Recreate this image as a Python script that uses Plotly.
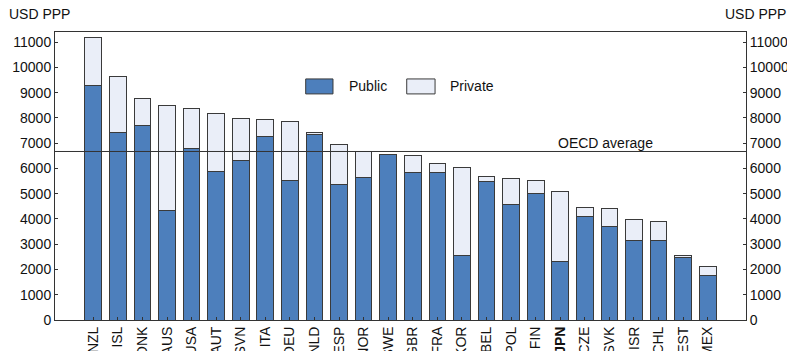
import plotly.graph_objects as go

countries = ["NZL", "ISL", "DNK", "AUS", "USA", "AUT", "SVN", "ITA", "DEU", "NLD", "ESP", "NOR", "SWE",
             "GBR", "FRA", "KOR", "BEL", "POL", "FIN", "JPN", "CZE", "SVK", "ISR", "CHL", "EST", "MEX"]
public = [9270, 7420, 7700, 4350, 6780, 5880, 6300, 7250, 5510, 7330, 5350, 5640, 6540,
          5840, 5820, 2560, 5490, 4560, 5010, 2300, 4080, 3690, 3140, 3140, 2490, 1750]
total = [11200, 9620, 8770, 8480, 8390, 8190, 7980, 7940, 7860, 7420, 6940, 6670, 6540,
         6500, 6190, 6050, 5680, 5590, 5540, 5100, 4460, 4420, 3980, 3880, 2545, 2120]
private = [t - p for t, p in zip(total, public)]
oecd_average = 6670
tick_labels = ["<b>%s</b>" % c if c == "JPN" else c for c in countries]
y_ticks = list(range(0, 12000, 1000))
y_tick_text = [str(v) for v in y_ticks]

FONT = "Liberation Sans, Arial, sans-serif"
BLUE = "#4d7fbc"
LIGHT = "#eaeef8"
EDGE = "#3a3a3a"
FS = 14

fig = go.Figure()
fig.add_trace(go.Bar(x=countries, y=public, name="Public", marker=dict(color=BLUE, line=dict(color=EDGE, width=1))))
fig.add_trace(go.Bar(x=countries, y=private, name="Private", marker=dict(color=LIGHT, line=dict(color=EDGE, width=1))))
# invisible trace to activate right axis
fig.add_trace(go.Scatter(x=countries, y=public, yaxis="y2", mode="markers", marker=dict(opacity=0),
                         showlegend=False, hoverinfo="skip"))

axis_common = dict(range=[0, 11400], tickvals=y_ticks, ticktext=y_tick_text, showgrid=False, zeroline=False,
                   showline=True, linecolor="#333", linewidth=1, ticks="inside", ticklen=3,
                   tickcolor="#333", automargin=False, tickfont=dict(size=FS))

fig.update_layout(
    barmode="stack",
    bargap=0.32,
    width=795, height=351,
    margin=dict(l=47, r=57, t=24, b=39),
    paper_bgcolor="white", plot_bgcolor="white",
    showlegend=False,
    font=dict(family=FONT, size=FS, color="#111"),
    xaxis=dict(tickmode="array", tickvals=countries, ticktext=tick_labels, tickangle=-90,
               showline=True, linecolor="#333", linewidth=1, mirror=True, automargin=False,
               ticks="inside", ticklen=3, tickcolor="#333", showgrid=False, tickfont=dict(size=FS),
               ticklabelstandoff=0),
    yaxis=dict(**axis_common),
    yaxis2=dict(**axis_common, overlaying="y", side="right"),
    shapes=[
        dict(type="line", xref="paper", yref="y", x0=0, x1=1, y0=oecd_average, y1=oecd_average,
             line=dict(color="#333", width=1), layer="above"),
        dict(type="rect", xref="paper", yref="paper", x0=0.3628, x1=0.4023, y0=0.785, y1=0.837,
             fillcolor=BLUE, line=dict(color=EDGE, width=1)),
        dict(type="rect", xref="paper", yref="paper", x0=0.509, x1=0.550, y0=0.785, y1=0.837,
             fillcolor=LIGHT, line=dict(color=EDGE, width=1)),
    ],
    annotations=[
        dict(text="USD PPP", xref="paper", yref="paper", x=-0.069, y=1.0, yshift=18, xanchor="left",
             yanchor="middle", showarrow=False, font=dict(size=FS)),
        dict(text="USD PPP", xref="paper", yref="paper", x=1.061, y=1.0, yshift=18, xanchor="right",
             yanchor="middle", showarrow=False, font=dict(size=FS)),
        dict(text="OECD average", xref="paper", yref="y", x=0.797, y=oecd_average, xanchor="center",
             yanchor="bottom", yshift=-2, showarrow=False, font=dict(size=FS)),
        dict(text="Public", xref="paper", yref="paper", x=0.4226, y=0.811, xanchor="left",
             yanchor="middle", showarrow=False, font=dict(size=FS)),
        dict(text="Private", xref="paper", yref="paper", x=0.5687, y=0.811, xanchor="left",
             yanchor="middle", showarrow=False, font=dict(size=FS)),
    ],
)

fig.write_html("out.html")
